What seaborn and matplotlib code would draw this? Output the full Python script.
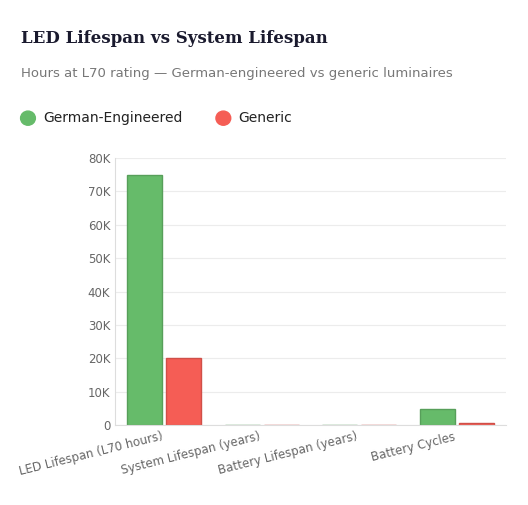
import seaborn as sns
import matplotlib.pyplot as plt
import pandas as pd

categories = ['LED Lifespan (L70 hours)', 'System Lifespan (years)', 'Battery Lifespan (years)', 'Battery Cycles']
german = [75000, 25, 10, 5000]
generic = [20000, 8, 3, 700]
yticks = [0, 10000, 20000, 30000, 40000, 50000, 60000, 70000, 80000]
ylabels = ['0', '10K', '20K', '30K', '40K', '50K', '60K', '70K', '80K']

df = pd.DataFrame({
    'category': categories * 2,
    'value': german + generic,
    'series': ['German-Engineered'] * 4 + ['Generic'] * 4,
})

sns.set_style('white')
fig = plt.figure(figsize=(5.28, 5.05), dpi=100)
ax = fig.add_axes([0.218, 0.158, 0.74, 0.529])
sns.barplot(data=df, x='category', y='value', hue='series',
            palette={'German-Engineered': '#66bb6a', 'Generic': '#f55d55'},
            width=0.8, gap=0.1, saturation=1, ax=ax, legend=False)
for p in ax.patches:
    fc = p.get_facecolor()
    p.set_edgecolor((fc[0] * 0.85, fc[1] * 0.85, fc[2] * 0.85, 1))
    p.set_linewidth(1)

ax.set_ylim(0, 80000)
ax.set_yticks(yticks)
ax.set_yticklabels(ylabels, fontsize=8.5, color='#666666')
ax.set_xticks(range(len(categories)))
ax.set_xticklabels(categories, rotation=14, ha='right', fontsize=8.5, color='#666666')
ax.tick_params(length=0)
ax.yaxis.grid(True, color='#ececec', lw=0.8)
ax.set_axisbelow(True)
ax.set_xlabel('')
ax.set_ylabel('')
for s in ['top', 'right']:
    ax.spines[s].set_visible(False)
for s in ['left', 'bottom']:
    ax.spines[s].set_color('#dddddd')

fig.text(0.04, 0.915, 'LED Lifespan vs System Lifespan', fontsize=12, fontweight='bold',
         family='DejaVu Serif', color='#1a1a2e')
fig.text(0.04, 0.848, 'Hours at L70 rating — German-engineered vs generic luminaires',
         fontsize=9.5, color='#777777')
fig.patches.append(plt.Circle((0.053, 0.766), 0.014, transform=fig.transFigure, color='#66bb6a'))
fig.text(0.082, 0.766, 'German-Engineered', fontsize=10, va='center', color='#222222')
fig.patches.append(plt.Circle((0.423, 0.766), 0.014, transform=fig.transFigure, color='#f55d55'))
fig.text(0.452, 0.766, 'Generic', fontsize=10, va='center', color='#222222')

fig.savefig('out.png', dpi=100)
